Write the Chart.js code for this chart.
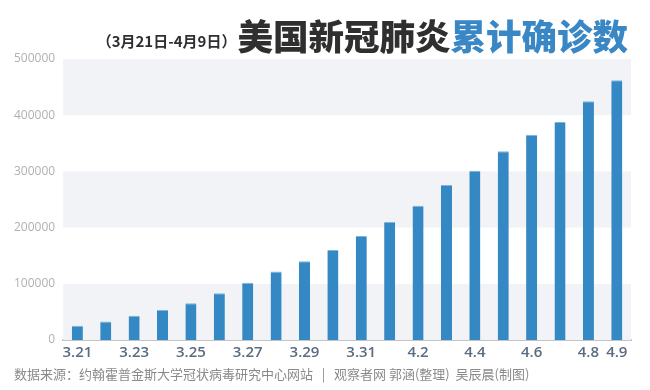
<!DOCTYPE html>
<html lang="zh">
<head>
<meta charset="UTF-8">
<title>美国新冠肺炎累计确诊数</title>
<script src="https://cdn.jsdelivr.net/npm/chart.js"></script>
<style>
  html, body { margin: 0; padding: 0; background: #fff; }
  body { width: 650px; height: 390px; position: relative; overflow: hidden; font-family: "Noto Sans CJK SC", "Noto Sans", sans-serif; }
  #wrap { position: absolute; left: 0; top: 0; width: 650px; height: 390px; }
  .title { position: absolute; right: 22px; top: 9px; white-space: nowrap; font-weight: 900; color: #2f2f2f; }
  .title .sub { font-size: 15px; font-weight: 700; vertical-align: 3px; margin-right: 1px; }
  .title .main { font-size: 35.5px; letter-spacing: 0; }
  .title .blue { color: #3a87c6; }
  .source { position: absolute; left: 14px; top: 364px; font-size: 13px; color: #8a8a8a; white-space: nowrap; }
</style>
</head>
<body>
<div id="wrap"><canvas id="chart" width="650" height="390"></canvas></div>
<div class="title"><span class="sub">（3月21日-4月9日）</span><span class="main">美国新冠肺炎<span class="blue">累计确诊数</span></span></div>
<div class="source">数据来源：约翰霍普金斯大学冠状病毒研究中心网站 &nbsp;&nbsp;| &nbsp;&nbsp;观察者网 郭涵(整理) &nbsp;吴辰晨(制图)</div>
<script>
const dates = ['3.21','3.22','3.23','3.24','3.25','3.26','3.27','3.28','3.29','3.30','3.31',
               '4.1','4.2','4.3','4.4','4.5','4.6','4.7','4.8','4.9'];
const confirmed = [25500, 33000, 43000, 53500, 65500, 83000, 101700, 122000, 140000, 160000, 185000,
                   210000, 239000, 276000, 301000, 336000, 365000, 388000, 425000, 462000];
const yTicks = [0, 100000, 200000, 300000, 400000, 500000];

// alternating grey bands between y ticks
const bands = {
  id: 'bands',
  beforeDatasetsDraw(chart) {
    const { ctx, chartArea, scales: { y } } = chart;
    ctx.save();
    ctx.fillStyle = '#f2f3f6';
    for (let i = 0; i < yTicks.length - 1; i += 2) {
      const top = y.getPixelForValue(yTicks[i + 1]);
      const bot = y.getPixelForValue(yTicks[i]);
      ctx.fillRect(chartArea.left, top, chartArea.right - chartArea.left, bot - top);
    }
    ctx.restore();
  }
};

new Chart(document.getElementById('chart'), {
  type: 'bar',
  data: {
    labels: dates,
    datasets: [{
      data: confirmed,
      backgroundColor: '#3488c3',
      borderColor: '#7db3dc',
      borderWidth: { top: 1, left: 0, right: 0, bottom: 0 },
      barPercentage: 0.39,
      categoryPercentage: 1
    }]
  },
  options: {
    responsive: false,
    animation: false,
    layout: { padding: { left: 6, top: 59, right: 19, bottom: 24 } },
    plugins: { legend: { display: false }, tooltip: { enabled: false } },
    scales: {
      x: {
        grid: { display: false, drawTicks: false },
        border: { display: true, color: '#c4c4c4', width: 2 },
        ticks: {
          autoSkip: false,
          maxRotation: 0,
          padding: 4,
          color: '#5b6b80',
          font: { family: 'Open Sans', size: 15, weight: '600' },
          callback: (v, i) => (i % 2 === 0 || i === dates.length - 1) ? dates[i] : ''
        }
      },
      y: {
        min: 0, max: 500000,
        afterBuildTicks: s => { s.ticks = yTicks.map(v => ({ value: v })); },
        grid: { display: false, drawTicks: false },
        border: { display: false },
        ticks: {
          padding: 8,
          color: '#b0b0b0',
          font: { family: 'Open Sans', size: 12 },
          callback: v => String(v)
        }
      }
    }
  },
  plugins: [bands]
});
</script>
</body>
</html>
